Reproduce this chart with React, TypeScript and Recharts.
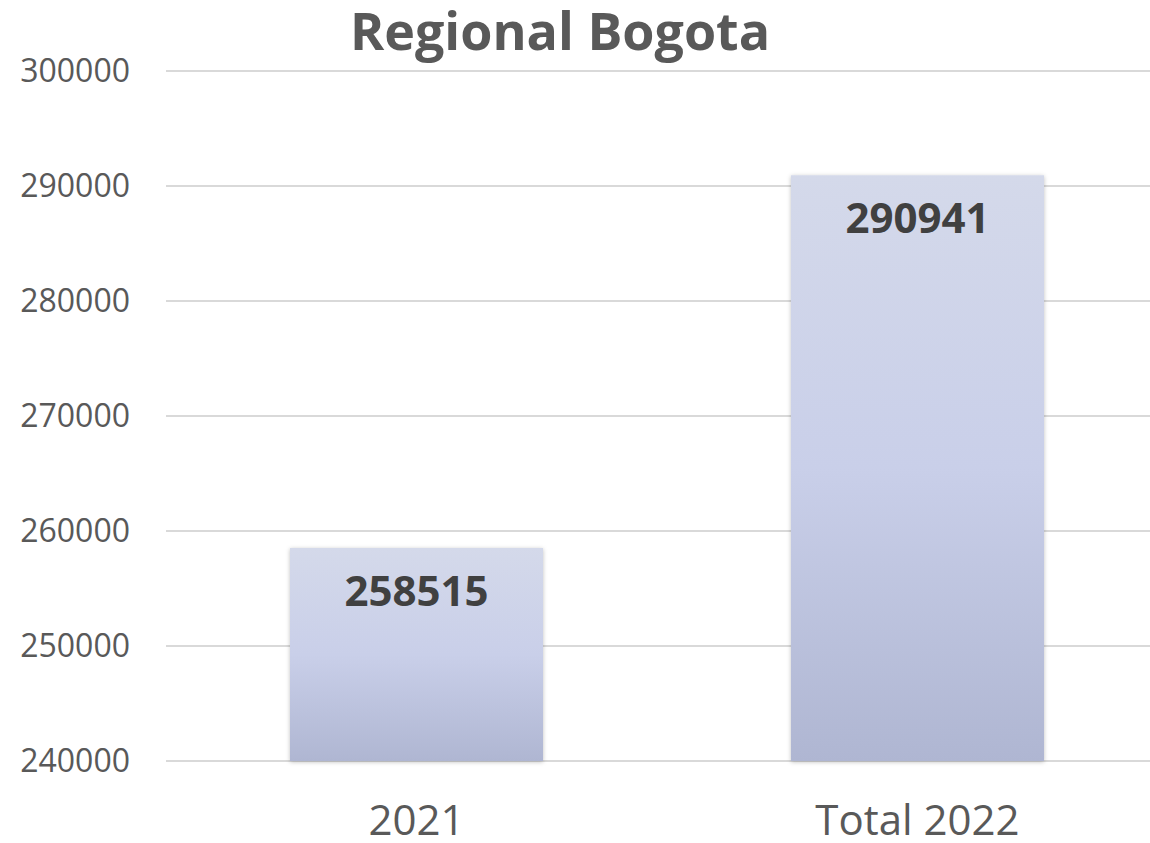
import { BarChart, Bar, XAxis, YAxis, CartesianGrid, LabelList } from "recharts"

const categories = ["2021", "Total 2022"]
const values = [258515, 290941]
const yTicks = [240000, 250000, 260000, 270000, 280000, 290000, 300000]

const data = categories.map((name, i) => ({ name, value: values[i] }))

const font = "'Open Sans', 'Noto Sans', sans-serif"

export default function App() {
  return (
    <div style={{ position: "relative", width: 1150, height: 843, overflow: "hidden", fontFamily: font }}>
      <style>{`body{margin:0}`}</style>
      <div
        style={{
          position: "absolute",
          top: 0,
          left: 0,
          width: 1120,
          textAlign: "center",
          fontSize: 52,
          fontWeight: 700,
          color: "#595959",
          lineHeight: "60px",
        }}
      >
        Regional Bogota
      </div>
      <BarChart width={1168} height={843} data={data} margin={{ top: 71, right: 0, left: 0, bottom: 52 }}>
        <defs>
          <linearGradient id="barFill" x1="0" y1="0" x2="0" y2="1">
            <stop offset="0%" stopColor="#d4d9ea" />
            <stop offset="50%" stopColor="#c9cfe9" />
            <stop offset="100%" stopColor="#afb6d2" />
          </linearGradient>
          <filter id="shadow" x="-10%" y="-10%" width="120%" height="120%">
            <feDropShadow dx="0" dy="1" stdDeviation="2" floodColor="#000" floodOpacity="0.25" />
          </filter>
        </defs>
        <CartesianGrid vertical={false} stroke="#d9d9d9" strokeWidth={2} />
        <XAxis
          dataKey="name"
          axisLine={false}
          tickLine={false}
          tickSize={0}
          tickMargin={44}
          tick={{ fontSize: 42, fill: "#595959" }}
        />
        <YAxis
          domain={[240000, 300000]}
          ticks={yTicks}
          axisLine={false}
          tickLine={false}
          tickSize={0}
          tickMargin={36}
          width={166}
          interval={0}
          tick={{ fontSize: 32, fill: "#595959" }}
        />
        <Bar dataKey="value" barSize={253} fill="url(#barFill)" filter="url(#shadow)" isAnimationActive={false}>
          <LabelList dataKey="value" position="insideTop" offset={28} fill="#404040" fontSize={42} fontWeight={700} />
        </Bar>
      </BarChart>
    </div>
  )
}
